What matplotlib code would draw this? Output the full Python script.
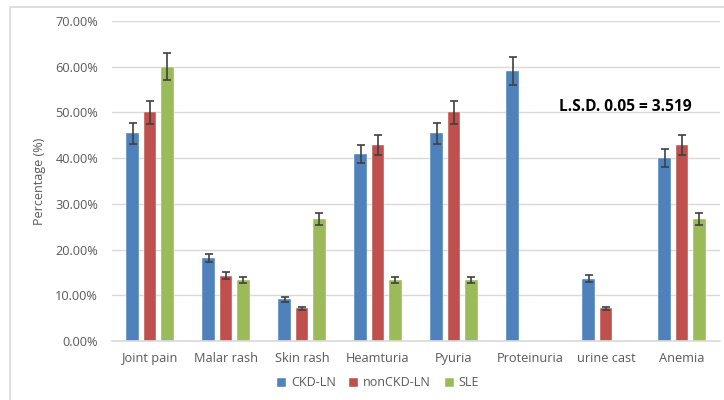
import matplotlib
matplotlib.use("Agg")
import matplotlib.pyplot as plt
import numpy as np
from matplotlib.ticker import FuncFormatter
from matplotlib.patches import Rectangle

categories = ["Joint pain", "Malar rash", "Skin rash", "Heamturia", "Pyuria",
              "Proteinuria", "urine cast", "Anemia"]
series_names = ["CKD-LN", "nonCKD-LN", "SLE"]
ckd_ln = [45.45, 18.18, 9.09, 40.91, 45.45, 59.09, 13.64, 40.0]
nonckd_ln = [50.0, 14.29, 7.14, 42.86, 50.0, 0.0, 7.14, 42.86]
sle = [60.0, 13.33, 26.67, 13.33, 13.33, 0.0, 0.0, 26.67]
ckd_err = [2.3, 0.9, 0.5, 2.0, 2.3, 3.0, 0.7, 2.0]
nonckd_err = [2.5, 0.7, 0.4, 2.1, 2.5, 0.0, 0.4, 2.1]
sle_err = [3.0, 0.7, 1.3, 0.7, 0.7, 0.0, 0.0, 1.3]
colors = ["#4F81BD", "#C0504D", "#9BBB59"]
annotation = "L.S.D. 0.05 = 3.519"

plt.rcParams['font.family'] = ['Open Sans', 'DejaVu Sans']

fig = plt.figure(figsize=(7.24, 4.0), dpi=100)
# outer chart border (only left and top visible)
fig.patches.append(Rectangle((10/724, -0.1), 1.2, 1.1 - 7/400, transform=fig.transFigure,
                             fill=False, edgecolor="#D9D9D9", linewidth=1.2))
ax = fig.add_axes([112/724, 1 - 341/400, (720 - 112)/724, 320/400])

x = np.arange(len(categories))
w = 0.17
gap = 0.225
data = [ckd_ln, nonckd_ln, sle]
errs = [ckd_err, nonckd_err, sle_err]
for i, (vals, e, c, name) in enumerate(zip(data, errs, colors, series_names)):
    vals = np.array(vals)
    e = np.array(e)
    pos = x + (i - 1) * gap
    ax.bar(pos, vals, width=w, color=c, label=name, zorder=2,
           edgecolor="white", linewidth=0.3)
    mask = vals > 0
    ax.errorbar(pos[mask], vals[mask], yerr=e[mask], fmt="none", ecolor="#404040",
                elinewidth=1.2, capsize=3, capthick=1.2, zorder=3)

ax.set_ylim(0, 70)
ax.set_xlim(-0.5, len(categories) - 0.5)
ax.set_yticks(np.arange(0, 71, 10))
ax.yaxis.set_major_formatter(FuncFormatter(lambda v, p: f"{v:.2f}%"))
ax.grid(axis="y", color="#D9D9D9", linewidth=1.0, zorder=0)
ax.set_axisbelow(True)
for s in ["top", "right", "left"]:
    ax.spines[s].set_visible(False)
ax.spines["bottom"].set_color("#D9D9D9")
ax.spines["bottom"].set_linewidth(1.2)
ax.tick_params(axis="both", length=0, colors="#595959", labelsize=9.2)
ax.tick_params(axis="y", pad=10)
ax.tick_params(axis="x", pad=8)
ax.set_xticks(x)
ax.set_xticklabels(categories)
ax.set_ylabel("Percentage (%)", color="#595959", fontsize=9)
ax.yaxis.set_label_coords(-0.108, 0.5)

ax.text(0.735, 0.73, annotation, transform=ax.transAxes, fontsize=11.2,
        fontweight="bold", color="black", ha="left", va="center")

leg = ax.legend(loc="center", bbox_to_anchor=(378/724, 1 - 383/400),
                bbox_transform=fig.transFigure, ncol=3, frameon=False,
                fontsize=9, handlelength=0.7, handleheight=0.7,
                columnspacing=1.1, handletextpad=0.4)
for t in leg.get_texts():
    t.set_color("#595959")

fig.savefig("out.png", dpi=100)
